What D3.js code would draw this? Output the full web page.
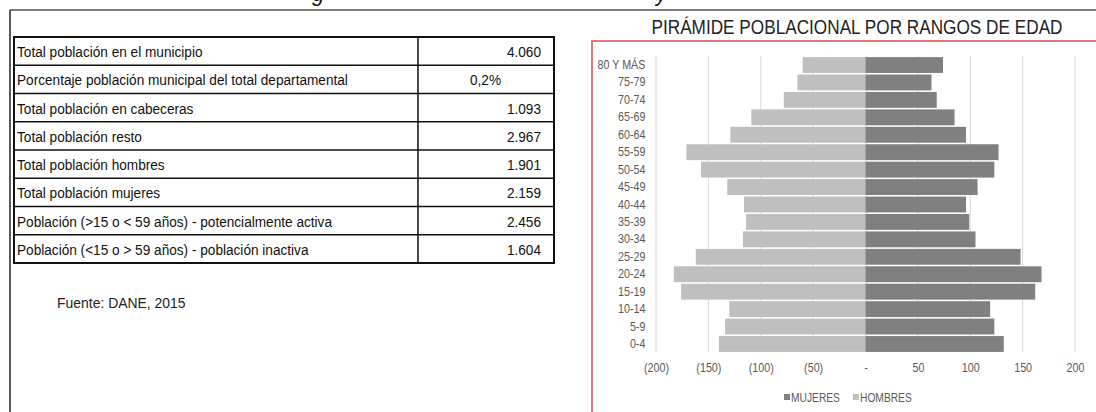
<!DOCTYPE html>
<html>
<head>
<meta charset="utf-8">
<script src="https://cdn.jsdelivr.net/npm/d3@7"></script>
<style>
  body { margin: 0; background: #fff; }
  svg { display: block; }
  .narrow { font-family: "Liberation Sans", Arial, sans-serif; }
</style>
</head>
<body>
<div id="chart"></div>
<script>
// Table values
var tableLabels = [
    "Total población en el municipio",
    "Porcentaje población municipal del total departamental",
    "Total población en cabeceras",
    "Total población resto",
    "Total población hombres",
    "Total población mujeres",
    "Población (>15 o < 59 años) - potencialmente activa",
    "Población (<15 o > 59 años) - población inactiva"
];
var tableValues = ["4.060", "0,2%", "1.093", "2.967", "1.901", "2.159", "2.456", "1.604"];

// Pyramid values
var ageGroups = ["80 Y MÁS", "75-79", "70-74", "65-69", "60-64", "55-59", "50-54", "45-49",
    "40-44", "35-39", "30-34", "25-29", "20-24", "15-19", "10-14", "5-9", "0-4"];
var hombres = [60, 65, 78, 109, 129, 171, 157, 132, 116, 114, 117, 162, 183, 176, 130, 134, 140];
var mujeres = [74, 63, 68, 85, 96, 127, 123, 107, 96, 99, 105, 148, 168, 162, 119, 123, 132];
var xTicks = [-200, -150, -100, -50, 0, 50, 100, 150, 200];
var legendLabels = ["MUJERES", "HOMBRES"];

var W = 1096, H = 412;
var svg = d3.select("#chart").append("svg")
    .attr("width", W).attr("height", H)
    .attr("class", "narrow");

svg.append("rect").attr("width", W).attr("height", H).attr("fill", "#fff");

// squeezed text, the source uses a narrow face we don't have
function narrowText(parent, x, y, str, size, sx, anchor, color) {
    return parent.append("text")
        .attr("transform", "translate(" + x + "," + y + ") scale(" + sx + ",1)")
        .attr("font-size", size)
        .attr("text-anchor", anchor || "start")
        .attr("fill", color || "#111")
        .text(str);
}

// cut off caption above the frame (only descenders visible)
svg.append("text").attr("x", 312).attr("y", 1).attr("font-style", "italic")
    .attr("font-size", 22).attr("fill", "#111").text("g");
svg.append("text").attr("x", 656).attr("y", 1).attr("font-style", "italic")
    .attr("font-size", 22).attr("fill", "#111").text("y");

// page frame
svg.append("line").attr("x1", 10).attr("x2", W).attr("y1", 10).attr("y2", 10)
    .attr("stroke", "#555").attr("stroke-width", 1.5);
svg.append("line").attr("x1", 10).attr("x2", 10).attr("y1", 10).attr("y2", H)
    .attr("stroke", "#222").attr("stroke-width", 1.5);

// ---- table ----
var tbl = { x0: 14, x1: 418, x2: 554, top: 37, bottom: 263 };
var rowH = (tbl.bottom - tbl.top) / tableLabels.length;
var t = svg.append("g");

tableLabels.forEach(function (lab, i) {
    var y = tbl.top + i * rowH;
    if (i > 0) {
        t.append("line").attr("x1", tbl.x0).attr("x2", tbl.x2).attr("y1", y).attr("y2", y)
            .attr("stroke", "#111").attr("stroke-width", 1.5);
    }
    narrowText(t, tbl.x0 + 3, y + rowH / 2 + 6, lab, 15.5, 0.88);
    if (tableValues[i].indexOf("%") >= 0) {
        narrowText(t, 470, y + rowH / 2 + 6, tableValues[i], 15.5, 0.88);
    } else {
        narrowText(t, 541, y + rowH / 2 + 6, tableValues[i], 15.5, 0.88, "end");
    }
});
t.append("line").attr("x1", tbl.x1).attr("x2", tbl.x1).attr("y1", tbl.top).attr("y2", tbl.bottom)
    .attr("stroke", "#111").attr("stroke-width", 1.5);
t.append("rect").attr("x", tbl.x0).attr("y", tbl.top)
    .attr("width", tbl.x2 - tbl.x0).attr("height", tbl.bottom - tbl.top)
    .attr("fill", "none").attr("stroke", "#111").attr("stroke-width", 2);

narrowText(svg, 57, 308, "Fuente: DANE, 2015", 15, 0.93, "start", "#222");

// ---- pyramid ----
narrowText(svg, 857, 34, "PIRÁMIDE POBLACIONAL POR RANGOS DE EDAD", 20, 0.86, "middle", "#222");

svg.append("rect").attr("x", 592).attr("y", 41).attr("width", 520).attr("height", 400)
    .attr("fill", "none").attr("stroke", "#e07a7a").attr("stroke-width", 2);

var x = d3.scaleLinear().domain([-200, 200]).range([656, 1075]);
var y = d3.scaleBand().domain(ageGroups).range([56.3, 352.7]).paddingInner(0.09).paddingOuter(0.045);

// grid
svg.append("g").selectAll("line").data(xTicks).join("line")
    .attr("x1", function (d) { return x(d); }).attr("x2", function (d) { return x(d); })
    .attr("y1", 56).attr("y2", 352)
    .attr("stroke", "#d9d9d9").attr("stroke-width", 1);

var bars = svg.append("g");
bars.selectAll(".h").data(ageGroups).join("rect").attr("class", "h")
    .attr("x", function (d, i) { return x(-hombres[i]); })
    .attr("width", function (d, i) { return x(0) - x(-hombres[i]); })
    .attr("y", function (d) { return y(d); })
    .attr("height", y.bandwidth())
    .attr("fill", "#bfbfbf");
bars.selectAll(".m").data(ageGroups).join("rect").attr("class", "m")
    .attr("x", x(0))
    .attr("width", function (d, i) { return x(mujeres[i]) - x(0); })
    .attr("y", function (d) { return y(d); })
    .attr("height", y.bandwidth())
    .attr("fill", "#808080");

// axes
var xAxis = d3.axisBottom(x).tickValues(xTicks).tickSize(0).tickPadding(11)
    .tickFormat(function (d) { return d < 0 ? "(" + (-d) + ")" : (d === 0 ? "-" : d); });
var gx = svg.append("g").attr("transform", "translate(0,352)").call(xAxis);
gx.select(".domain").remove();
gx.selectAll("text").attr("font-family", null).attr("font-size", 12.5).attr("fill", "#595959")
    .attr("transform", "scale(0.86,1)");

var yAxis = d3.axisLeft(y).tickSize(0).tickPadding(3);
var gy = svg.append("g").attr("transform", "translate(648,0)").call(yAxis);
gy.select(".domain").remove();
gy.selectAll("text").attr("font-family", null).attr("font-size", 12.5).attr("fill", "#595959")
    .attr("transform", "scale(0.86,1)");

// legend
var legendColors = ["#808080", "#bfbfbf"];
var legendX = [784, 853];
var lg = svg.append("g");
legendLabels.forEach(function (lab, i) {
    lg.append("rect").attr("x", legendX[i]).attr("y", 394).attr("width", 6).attr("height", 6)
        .attr("fill", legendColors[i]);
    narrowText(lg, legendX[i] + 7, 401.5, lab, 12.5, 0.82, "start", "#595959");
});
</script>
</body>
</html>
